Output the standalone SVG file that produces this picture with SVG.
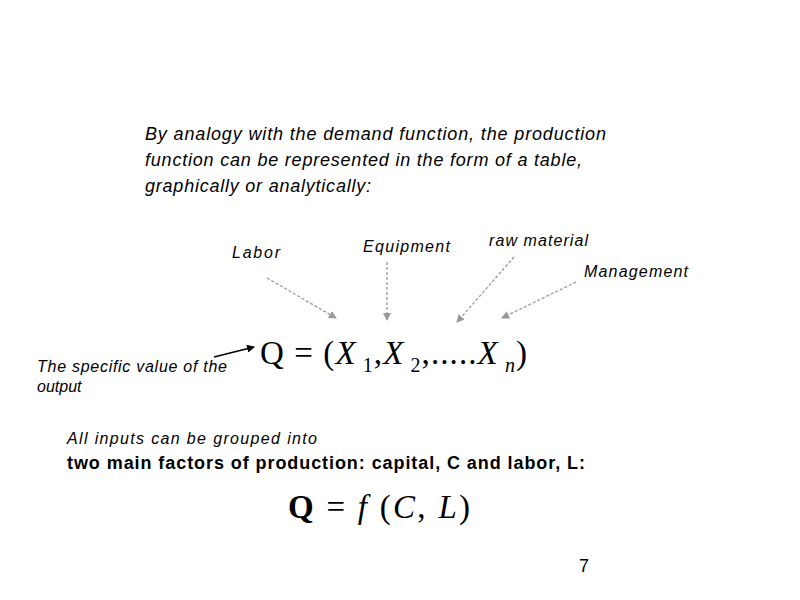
<svg xmlns="http://www.w3.org/2000/svg" width="800" height="600" viewBox="0 0 800 600">
<defs>
<style>
.t{font-family:"Liberation Sans",Arial,sans-serif;font-size:18px;fill:#000}
.i{font-family:"Liberation Sans",Arial,sans-serif;font-size:16px;font-style:italic;fill:#000}
.m{font-family:"Liberation Serif","Times New Roman",serif;fill:#000}
.d{stroke:#999;stroke-width:1.3;stroke-dasharray:3,2;fill:none}
</style>
<marker id="ag" markerWidth="8" markerHeight="8" refX="7" refY="4" orient="auto" markerUnits="userSpaceOnUse"><path d="M0,0 L8,4 L0,8 z" fill="#999"/></marker>
<marker id="ab" markerWidth="8" markerHeight="8" refX="7" refY="4" orient="auto" markerUnits="userSpaceOnUse"><path d="M0,0 L8,4 L0,8 z" fill="#000"/></marker>
</defs>
<rect width="800" height="600" fill="#fff"/>
<g id="intro">
<text class="i" x="145" y="140" style="font-size:18px" textLength="461" lengthAdjust="spacing">By analogy with the demand function, the production</text>
<text class="i" x="145" y="166" style="font-size:18px" textLength="437" lengthAdjust="spacing">function can be represented in the form of a table,</text>
<text class="i" x="145" y="192" style="font-size:18px" textLength="226" lengthAdjust="spacing">graphically or analytically:</text>
</g>
<g id="labor"><text class="i" x="232" y="258" textLength="48">Labor</text></g>
<g id="equipment"><text class="i" x="363" y="252" textLength="87">Equipment</text></g>
<g id="raw"><text class="i" x="489" y="246" textLength="99">raw material</text></g>
<g id="management"><text class="i" x="584" y="277" textLength="104">Management</text></g>
<g id="output"><text class="i" x="37" y="372" textLength="190">The specific value of the</text><text class="i" x="37" y="392">output</text></g>
<g id="formula1"><text class="m" x="260" y="364" font-size="33" textLength="267" lengthAdjust="spacing">Q = (<tspan font-style="italic">X</tspan><tspan font-size="20" dy="8"> 1</tspan><tspan dy="-8">,</tspan><tspan font-style="italic">X</tspan><tspan font-size="20" dy="8"> 2</tspan><tspan dy="-8">,.....</tspan><tspan font-style="italic">X</tspan><tspan font-size="20" font-style="italic" dy="8"> n</tspan><tspan dy="-8">)</tspan></text></g>
<g id="grouped">
<text class="i" x="67" y="444" textLength="250" lengthAdjust="spacing">All inputs can be grouped into</text>
<text class="t" x="67" y="469" font-weight="bold" textLength="518" lengthAdjust="spacing">two main factors of production: capital, C and labor, L:</text>
</g>
<g id="formula2"><text class="m" x="288" y="518" font-size="33" textLength="182" lengthAdjust="spacing"><tspan font-weight="bold">Q</tspan> = <tspan font-style="italic">f</tspan> (<tspan font-style="italic">C</tspan>, <tspan font-style="italic">L</tspan>)</text></g>
<g id="page"><text class="t" x="579" y="572">7</text></g>
<g id="connectors">
<path class="d" d="M267,278 L336,318" marker-end="url(#ag)"/>
<path class="d" d="M387,262 L387,320" marker-end="url(#ag)"/>
<path class="d" d="M514,257 L457,322" marker-end="url(#ag)"/>
<path class="d" d="M576,282 L502,318" marker-end="url(#ag)"/>
<path d="M214,357 L254,347" stroke="#000" stroke-width="1.3" marker-end="url(#ab)"/>
</g>
</svg>
